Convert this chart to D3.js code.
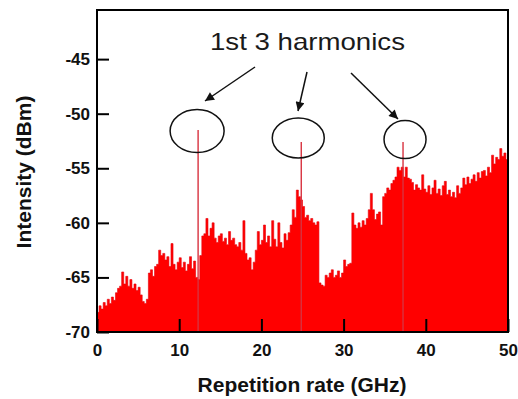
<!DOCTYPE html>
<html>
<head>
<meta charset="utf-8">
<script src="https://cdn.jsdelivr.net/npm/d3@7"></script>
<style>
    body { margin: 0; background: #fff; }
    text { font-family: "Liberation Sans", Arial, sans-serif; }
</style>
</head>
<body>
<div id="chart"></div>
<script>

// Noise floor of the RF spectrum, one value every 0.25 GHz from 0 to 50 GHz (dBm)
var freqStep = 0.25;
var spectrumDbm = [
    -68.2, -67.6, -67.9, -67.3,   // 0-1
    -67.6, -67.0, -67.4, -66.8,   // 1-2
    -67.1, -66.4, -66.0, -65.8,   // 2-3
    -64.5, -65.6, -64.9, -65.8,   // 3-4
    -65.2, -66.0, -65.6, -66.2,   // 4-5
    -65.9, -66.6, -67.2, -67.4,   // 5-6
    -67.0, -64.6, -64.3, -64.9,   // 6-7
    -64.0, -63.8, -62.5, -63.0,   // 7-8
    -62.8, -63.4, -63.1, -64.0,   // 8-9
    -61.9, -63.8, -64.3, -63.6,   // 9-10
    -63.2, -64.1, -63.6, -64.4,   // 10-11
    -63.8, -63.1, -64.2, -63.5,   // 11-12
    -65.0, -65.2, -63.0, -61.2,   // 12-13
    -61.0, -59.6, -61.2, -60.5,   // 13-14
    -60.0, -61.4, -61.8, -61.2,   // 14-15
    -61.0, -61.7, -61.4, -62.0,   // 15-16
    -60.8, -61.6, -61.4, -62.0,   // 16-17
    -62.2, -61.8, -62.5, -59.8,   // 17-18
    -62.8, -63.4, -63.2, -64.3,   // 18-19
    -63.6, -62.5, -60.8, -62.0,   // 19-20
    -61.6, -60.2, -61.8, -61.2,   // 20-21
    -62.2, -59.8, -61.5, -62.2,   // 21-22
    -60.0, -61.8, -62.3, -61.0,   // 22-23
    -61.6, -60.9, -60.2, -58.8,   // 23-24
    -59.5, -57.0, -57.6, -57.9,   // 24-25
    -58.5, -59.5, -59.3, -59.8,   // 25-26
    -59.6, -60.0, -60.2, -59.9,   // 26-27
    -65.5, -65.7, -65.8, -64.8,   // 27-28
    -65.0, -64.6, -64.3, -65.0,   // 28-29
    -64.8, -64.4, -65.0, -64.6,   // 29-30
    -63.4, -64.0, -63.8, -63.7,   // 30-31
    -59.1, -60.2, -60.5, -60.0,   // 31-32
    -60.4, -59.8, -60.2, -59.6,   // 32-33
    -58.8, -57.3, -58.8, -59.7,   // 33-34
    -59.2, -59.0, -60.2, -57.6,   // 34-35
    -57.3, -56.8, -57.0, -56.4,   // 35-36
    -56.1, -55.8, -54.9, -55.2,   // 36-37
    -54.9, -55.8, -54.9, -55.9,   // 37-38
    -56.0, -56.3, -57.0, -56.5,   // 38-39
    -56.8, -57.0, -55.6, -56.9,   // 39-40
    -57.2, -56.6, -57.4, -56.8,   // 40-41
    -56.1, -57.3, -56.9, -57.5,   // 41-42
    -56.6, -56.2, -57.4, -57.0,   // 42-43
    -57.6, -57.2, -57.7, -56.6,   // 43-44
    -57.3, -56.8, -55.9, -56.5,   // 44-45
    -55.8, -56.4, -56.0, -55.6,   // 45-46
    -56.2, -55.4, -55.9, -55.3,   // 46-47
    -55.2, -55.7, -54.9, -55.4,   // 47-48
    -53.8, -54.6, -54.0, -54.2,   // 48-49
    -53.2, -53.9, -53.6, -54.2,   // 49-50
    -54.2
];

// The three harmonic lines
var harmonicFreq = [12.3, 24.85, 37.23];
var harmonicPeak = [-51.5, -52.6, -52.6];

// Axis ticks
var xTicks = [0, 10, 20, 30, 40, 50];
var yTicks = [-70, -65, -60, -55, -50, -45];

var annotationText = "1st 3 harmonics";


SpectrumChart = function (_parentElement) {
    this.parentElement = _parentElement;
    this.width = 518;
    this.height = 399;
    this.margin = { top: 10, right: 10, bottom: 67, left: 97 };

    this.initVis();
}

/*
 *  Scales, svg, frame and axes
 */
SpectrumChart.prototype.initVis = function () {
    var vis = this;

    vis.svg = d3.select("#" + vis.parentElement)
        .append("svg")
        .attr("width", vis.width)
        .attr("height", vis.height);

    vis.x = d3.scaleLinear()
        .domain([0, 50])
        .range([vis.margin.left, vis.width - vis.margin.right]);
    vis.y = d3.scaleLinear()
        .domain([-70, -40.5])
        .range([vis.height - vis.margin.bottom, vis.margin.top]);

    vis.data = spectrumDbm.map(function (v, i) {
        return { f: i * freqStep, db: v };
    });

    vis.updateVis();
}

/*
 *  Drawing
 */
SpectrumChart.prototype.updateVis = function () {
    var vis = this;
    var x = vis.x, y = vis.y;
    var x0 = x.range()[0], x1 = x.range()[1];
    var y0 = y.range()[0], y1 = y.range()[1];

    // red filled spectrum
    var area = d3.area()
        .curve(d3.curveStepAfter)
        .x(function (d) { return x(d.f); })
        .y0(y(-70))
        .y1(function (d) { return y(d.db); });

    vis.svg.append("path")
        .datum(vis.data)
        .attr("d", area)
        .attr("fill", "#ff0000")
        .attr("stroke", "#e8000c")
        .attr("stroke-width", 0.6);

    // harmonic lines
    vis.svg.selectAll(".harm")
        .data(harmonicFreq)
        .enter().append("line")
        .attr("class", "harm")
        .attr("x1", function (d) { return x(d); })
        .attr("x2", function (d) { return x(d); })
        .attr("y1", y(-70))
        .attr("y2", function (d, i) { return y(harmonicPeak[i]); })
        .attr("stroke", "#d8323f")
        .attr("stroke-width", 1.4);

    // frame
    vis.svg.append("rect")
        .attr("x", x0)
        .attr("y", y1)
        .attr("width", x1 - x0)
        .attr("height", y0 - y1)
        .attr("fill", "none")
        .attr("stroke", "#000")
        .attr("stroke-width", 2);

    // axes, ticks pointing inward; plain hyphen for negatives
    var plain = function (d) { return String(d); };
    var xAxis = d3.axisBottom(x).tickValues(xTicks).tickFormat(plain)
        .tickSizeInner(-13).tickSizeOuter(0);
    var gx = vis.svg.append("g")
        .attr("transform", "translate(0," + y0 + ")")
        .call(xAxis);

    var yAxis = d3.axisLeft(y).tickValues(yTicks).tickFormat(plain)
        .tickSizeInner(-12).tickSizeOuter(0);
    var gy = vis.svg.append("g")
        .attr("transform", "translate(" + x0 + ",0)")
        .call(yAxis);

    [gx, gy].forEach(function (g) {
        g.select(".domain").remove();
        g.selectAll(".tick line").attr("stroke", "#000").attr("stroke-width", 2);
        g.selectAll(".tick text")
            .attr("fill", "#111")
            .style("font-size", "17px")
            .style("font-weight", "bold");
    });
    gx.selectAll(".tick text").attr("dy", "0.71em").attr("y", 12);
    gy.selectAll(".tick text").attr("x", -7);

    // axis titles
    vis.svg.append("text")
        .attr("x", 302)
        .attr("y", 392)
        .attr("text-anchor", "middle")
        .style("font-size", "21px")
        .style("font-weight", "bold")
        .attr("fill", "#111")
        .text("Repetition rate (GHz)");

    vis.svg.append("text")
        .attr("transform", "translate(31,172) rotate(-90)")
        .attr("text-anchor", "middle")
        .style("font-size", "21px")
        .style("font-weight", "bold")
        .attr("fill", "#111")
        .text("Intensity (dBm)");

    // annotation: ellipses round each harmonic peak
    var ellipses = [
        { dx: -1, dy: 1, rx: 27, ry: 21.5 },
        { dx: -3, dy: -4, rx: 26, ry: 20 },
        { dx: 2, dy: -2.5, rx: 21, ry: 19 }
    ];
    vis.svg.selectAll(".ring")
        .data(ellipses)
        .enter().append("ellipse")
        .attr("class", "ring")
        .attr("cx", function (d, i) { return x(harmonicFreq[i]) + d.dx; })
        .attr("cy", function (d, i) { return y(harmonicPeak[i]) + d.dy; })
        .attr("rx", function (d) { return d.rx; })
        .attr("ry", function (d) { return d.ry; })
        .attr("fill", "none")
        .attr("stroke", "#111")
        .attr("stroke-width", 1.5);

    // arrows from the label
    vis.svg.append("defs").append("marker")
        .attr("id", "head")
        .attr("viewBox", "0 0 10 10")
        .attr("refX", 10)
        .attr("refY", 5)
        .attr("markerUnits", "userSpaceOnUse")
        .attr("markerWidth", 13)
        .attr("markerHeight", 9)
        .attr("orient", "auto")
        .append("path")
        .attr("d", "M0,0 L10,5 L0,10 z")
        .attr("fill", "#111");

    var arrows = [
        [255, 67, 205, 101],
        [307, 72, 298, 111],
        [351, 73, 398, 119]
    ];
    vis.svg.selectAll(".arrow")
        .data(arrows)
        .enter().append("line")
        .attr("class", "arrow")
        .attr("x1", function (d) { return d[0]; })
        .attr("y1", function (d) { return d[1]; })
        .attr("x2", function (d) { return d[2]; })
        .attr("y2", function (d) { return d[3]; })
        .attr("stroke", "#111")
        .attr("stroke-width", 1.5)
        .attr("marker-end", "url(#head)");

    vis.svg.append("text")
        .attr("x", 210)
        .attr("y", 50)
        .attr("textLength", 195)
        .attr("lengthAdjust", "spacingAndGlyphs")
        .style("font-size", "24px")
        .attr("fill", "#1a1a1a")
        .text(annotationText);
}

var chart = new SpectrumChart("chart");

</script>
</body>
</html>
